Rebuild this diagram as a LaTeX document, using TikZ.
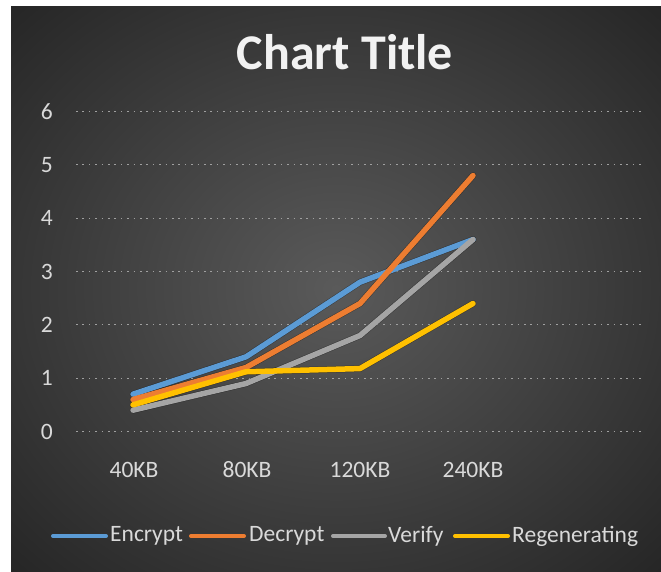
\documentclass[tikz,border=0pt]{standalone}
\usepackage{fontspec}
\setmainfont{Carlito}
\definecolor{bgin}{HTML}{5A5A5A}
\definecolor{bgout}{HTML}{262626}
\definecolor{encc}{HTML}{5B9BD5}
\definecolor{decc}{HTML}{ED7D31}
\definecolor{verc}{HTML}{A5A5A5}
\definecolor{regc}{HTML}{FFC000}
\definecolor{txtc}{HTML}{D9D9D9}
\definecolor{gridc}{HTML}{A0A0A0}
\pgfdeclareradialshading{bgshade}{\pgfpoint{0bp}{0bp}}{color(0bp)=(bgin); color(35.4bp)=(bgout); color(50bp)=(bgout)}
\tikzset{
  gridline/.style={draw=gridc, line width=0.9pt, dash pattern=on 1.6pt off 4.8pt},
  series/.style={line width=5.5pt, line cap=round, line join=round},
  shadowline/.style={line width=6.5pt, line cap=round, line join=round, draw=black, draw opacity=0.35},
  ticklbl/.style={text=txtc, font=\fontsize{23.5}{28}\selectfont, inner sep=0pt},
  legline/.style={line width=4pt, line cap=round},
}
\begin{document}
\begin{tikzpicture}[x=1pt,y=-1pt]
\useasboundingbox (0,0) rectangle (661,571);
\fill[white] (0,0) rectangle (661,571);
\shade[shading=bgshade] (11,6) rectangle (661,571);
% title
\node[text=white!95!black, font=\bfseries\fontsize{50}{60}\selectfont, inner sep=0pt] (title) at (345,52.5) {Chart Title};
% grid and y labels
\foreach \v in {0,...,6} {
  \coordinate (gl\v) at (76,431.5-53.33*\v);
  \coordinate (gr\v) at (643,431.5-53.33*\v);
  \draw[gridline] (gl\v) -- (gr\v);
  \node[ticklbl, anchor=east] (yl\v) at (53,431.5-53.33*\v) {\v};
}
% x labels
\node[ticklbl] (x1) at (134,470) {40KB};
\node[ticklbl] (x2) at (247,470) {80KB};
\node[ticklbl] (x3) at (360,470) {120KB};
\node[ticklbl] (x4) at (473,470) {240KB};
% data coordinates
\newcommand{\datapt}[3]{\coordinate (#1) at (#2,431.5-53.33*#3);}
\datapt{e1}{133}{0.7}\datapt{e2}{246}{1.4}\datapt{e3}{360}{2.8}\datapt{e4}{473}{3.6}
\datapt{d1}{133}{0.6}\datapt{d2}{246}{1.2}\datapt{d3}{360}{2.4}\datapt{d4}{473}{4.8}
\datapt{v1}{133}{0.4}\datapt{v2}{246}{0.9}\datapt{v3}{360}{1.8}\datapt{v4}{473}{3.6}
\datapt{r1}{133}{0.5}\datapt{r2}{246}{1.12}\datapt{r3}{360}{1.18}\datapt{r4}{473}{2.4}
% shadows
\begin{scope}[shift={(2,3)}]
\draw[shadowline] (e1)--(e2)--(e3)--(e4);
\draw[shadowline] (d1)--(d2)--(d3)--(d4);
\draw[shadowline] (v1)--(v2)--(v3)--(v4);
\draw[shadowline] (r1)--(r2)--(r3)--(r4);
\end{scope}
% series
\draw[series, encc] (e1)--(e2)--(e3)--(e4);
\draw[series, decc] (d1)--(d2)--(d3)--(d4);
\draw[series, verc] (v1)--(v2)--(v3)--(v4);
\draw[series, regc] (r1)--(r2)--(r3)--(r4);
% legend
\coordinate (la1) at (53,536); \coordinate (lb1) at (106,536);
\coordinate (la2) at (191,536); \coordinate (lb2) at (244,536);
\coordinate (la3) at (333,536); \coordinate (lb3) at (385,536);
\coordinate (la4) at (455,536); \coordinate (lb4) at (508,536);
\draw[legline, encc] (la1) -- (lb1);
\draw[legline, decc] (la2) -- (lb2);
\draw[legline, verc] (la3) -- (lb3);
\draw[legline, regc] (la4) -- (lb4);
\node[ticklbl, anchor=west] (l1) at (110,536) {Encrypt};
\node[ticklbl, anchor=west] (l2) at (249,536) {Decrypt};
\node[ticklbl, anchor=west] (l3) at (388,536) {Verify};
\node[ticklbl, anchor=west] (l4) at (512,536) {Regenerating};
\end{tikzpicture}
\end{document}
